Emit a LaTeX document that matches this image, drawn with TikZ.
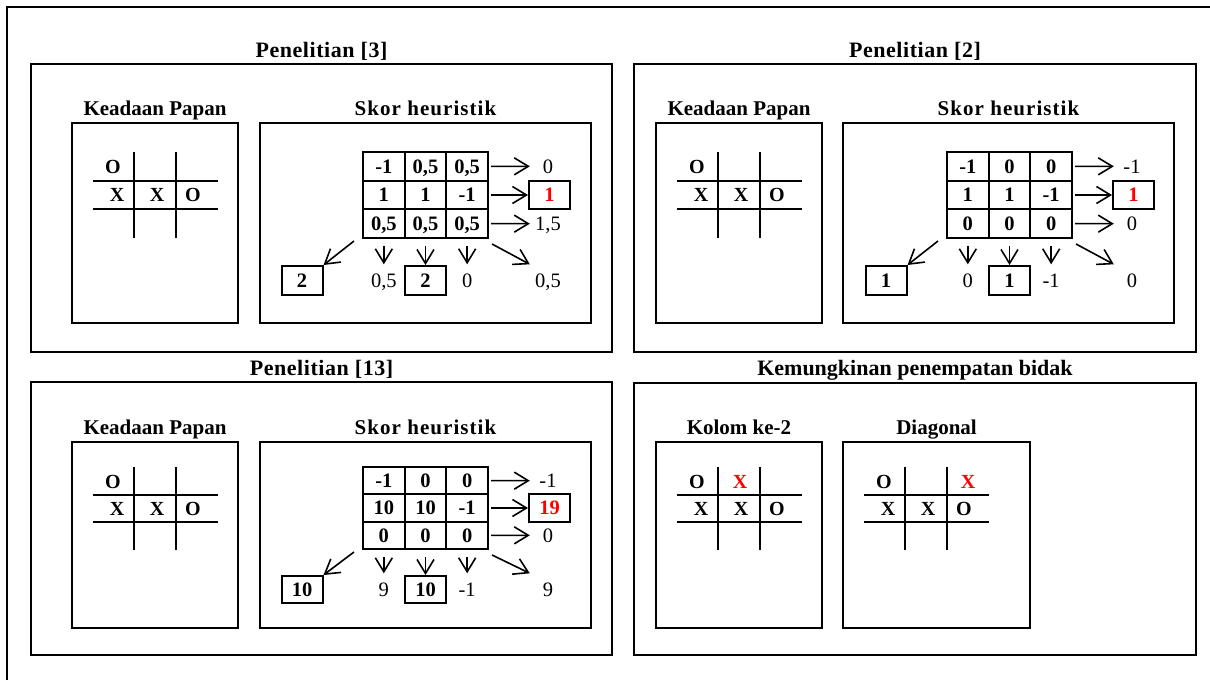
\documentclass[tikz,border=0pt]{standalone}
\usepackage{fontspec}
\setmainfont{Liberation Serif}
\usetikzlibrary{arrows.meta}

\newcommand\cellrow[8]{%
  \node[cell,minimum height=#5] (#1c#21) at (#3+20.83,#4) {#6};
  \node[cell,minimum height=#5] (#1c#22) at (#3+62.5,#4) {#7};
  \node[cell,minimum height=#5] (#1c#23) at (#3+104.17,#4) {#8};
}
\newcommand\rightside[7]{%
  \node[lab] (#1r1) at (#2+185,#3+0.5*#4) {#5};
  \node[vbox,minimum height=#4,text=red] (#1r2) at (#2+186.5,#3+1.5*#4) {#6};
  \node[lab] (#1r3) at (#2+185,#3+2.5*#4) {#7};
  \draw[arr] ([xshift=2pt]#1c13.east) -- (#1r1.west);
  \draw[arr] ([xshift=2pt]#1c23.east) -- (#1r2.west);
  \draw[arr] ([xshift=2pt]#1c33.east) -- (#1r3.west);
}
\newcommand\bottomside[9]{%
  \node[vbox,minimum height=#4] (#1b1) at (#2-61,#3) {#5};
  \node[lab] (#1b2) at (#2+20.83,#3) {#6};
  \node[vbox,minimum height=#4] (#1b3) at (#2+62.5,#3) {#7};
  \node[lab] (#1b4) at (#2+104.17,#3) {#8};
  \node[lab] (#1b5) at (#2+185,#3) {#9};
  \draw[arr] ([xshift=-8pt,yshift=-2pt]#1c31.south west) -- (#1b1.north east);
  \draw[arr] ([yshift=-7pt]#1c31.south) -- (#1b2.north);
  \draw[arr] ([yshift=-7pt]#1c32.south) -- (#1b3.north);
  \draw[arr] ([yshift=-7pt]#1c33.south) -- (#1b4.north);
  \draw[arr] ([xshift=3pt,yshift=-5pt]#1c33.south east) -- (#1b5.north west);
}
\newcommand\boardlines[5]{%
  \draw[bline] (#1,#2) -- (#1+125,#2);
  \draw[bline] (#1,#3) -- (#1+125,#3);
  \draw[bline] (#1+41,#4) -- (#1+41,#5);
  \draw[bline] (#1+83,#4) -- (#1+83,#5);
}
\newcommand\spc[2]{{\addfontfeature{LetterSpace=#1}#2}}

\begin{document}
\begin{tikzpicture}[x=1pt,y=-1pt,
  pbox/.style={draw,line width=2pt,inner sep=0pt,rectangle},
  ttl/.style={font=\bfseries\fontsize{22}{24}\selectfont,anchor=base,inner sep=0pt},
  sub/.style={font=\bfseries\fontsize{21}{24}\selectfont,anchor=base,inner sep=0pt},
  bline/.style={line width=1.8pt},
  piece/.style={font=\bfseries\fontsize{20}{22}\selectfont,inner sep=0pt,text height=13.4pt,text depth=0pt},
  cell/.style={draw,line width=2pt,inner sep=0pt,minimum width=41.67pt,font=\bfseries\fontsize{20.5}{22}\selectfont,text height=13.8pt,text depth=0pt},
  vbox/.style={draw,line width=2pt,inner sep=0pt,minimum width=41pt,font=\bfseries\fontsize{20.5}{22}\selectfont,text height=13.8pt,text depth=0pt},
  lab/.style={inner sep=0pt,minimum width=36pt,minimum height=32pt,font=\fontsize{20.5}{22}\selectfont,text height=13.8pt,text depth=0pt},
  arr/.style={line width=1.6pt,-{Straight Barb[length=14pt,width=17pt]}}
]
\useasboundingbox (0,0) rectangle (1210,680);
\draw[line width=2pt] (7,680) -- (7,7) -- (1210,7);

% panels
\node[pbox,minimum width=581pt,minimum height=288pt] (PA) at (321.5,208) {};
\node[pbox,minimum width=562pt,minimum height=288pt] (PB) at (915,208) {};
\node[pbox,minimum width=581pt,minimum height=273pt] (PC) at (321.5,518.5) {};
\node[pbox,minimum width=562pt,minimum height=272pt] (PD) at (915,519) {};
\node[ttl] (TA) at (321.5,57) {\spc{2.5}{Penelitian [3]}};
\node[ttl] (TB) at (915,57) {\spc{2.5}{Penelitian [2]}};
\node[ttl] (TC) at (321.5,375) {\spc{2.5}{Penelitian [13]}};
\node[ttl] (TD) at (915,375) {Kemungkinan penempatan bidak};

% sub boxes
\node[pbox,minimum width=166pt,minimum height=200pt] (KA) at (155,223) {};
\node[pbox,minimum width=331pt,minimum height=200pt] (SA) at (425.5,223) {};
\node[pbox,minimum width=166pt,minimum height=200pt] (KB) at (739,223) {};
\node[pbox,minimum width=331pt,minimum height=200pt] (SB) at (1008.5,223) {};
\node[pbox,minimum width=166pt,minimum height=186pt] (KC) at (155,535) {};
\node[pbox,minimum width=331pt,minimum height=186pt] (SC) at (425.5,535) {};
\node[pbox,minimum width=166pt,minimum height=186pt] (KD) at (739,535) {};
\node[pbox,minimum width=187pt,minimum height=186pt] (DD) at (936.5,535) {};

\node[sub] (LKA) at (155,115) {Keadaan Papan};
\node[sub] (LSA) at (425.5,115) {\spc{5}{Skor heuristik}};
\node[sub] (LKB) at (739,115) {Keadaan Papan};
\node[sub] (LSB) at (1008.5,115) {\spc{5}{Skor heuristik}};
\node[sub] (LKC) at (155,434) {Keadaan Papan};
\node[sub] (LSC) at (425.5,434) {\spc{5}{Skor heuristik}};
\node[sub] (LKD) at (739,434) {Kolom ke-2};
\node[sub] (LDD) at (936.5,434) {Diagonal};

% boards
\boardlines{93}{181}{209}{152}{238}
\boardlines{677}{181}{209}{152}{238}
\boardlines{93}{495}{522}{467}{550}
\boardlines{677}{495}{522}{467}{550}
\boardlines{864}{495}{522}{467}{550}

\node[piece] (mA1) at (113,167) {O};
\node[piece] (mA2) at (117,195) {X};
\node[piece] (mA3) at (157,195) {X};
\node[piece] (mA4) at (193,195) {O};

\node[piece] (mB1) at (697,167) {O};
\node[piece] (mB2) at (701,195) {X};
\node[piece] (mB3) at (741,195) {X};
\node[piece] (mB4) at (777,195) {O};

\node[piece] (mC1) at (113,482) {O};
\node[piece] (mC2) at (117,509) {X};
\node[piece] (mC3) at (157,509) {X};
\node[piece] (mC4) at (193,509) {O};

\node[piece] (mD1) at (697,482) {O};
\node[piece,text=red] (mD5) at (740,482) {X};
\node[piece] (mD2) at (701,509) {X};
\node[piece] (mD3) at (741,509) {X};
\node[piece] (mD4) at (777,509) {O};

\node[piece] (mE1) at (884,482) {O};
\node[piece,text=red] (mE5) at (968,482) {X};
\node[piece] (mE2) at (888,509) {X};
\node[piece] (mE3) at (928,509) {X};
\node[piece] (mE4) at (964,509) {O};

% score grids
\cellrow{A}{1}{363}{166.33}{28.67}{-1}{0,5}{0,5}
\cellrow{A}{2}{363}{195}{28.67}{1}{1}{-1}
\cellrow{A}{3}{363}{223.67}{28.67}{0,5}{0,5}{0,5}
\rightside{A}{363}{152}{28.67}{0}{1}{1,5}
\bottomside{A}{363}{280.5}{29}{2}{0,5}{2}{0}{0,5}

\cellrow{B}{1}{947}{166.33}{28.67}{-1}{0}{0}
\cellrow{B}{2}{947}{195}{28.67}{1}{1}{-1}
\cellrow{B}{3}{947}{223.67}{28.67}{0}{0}{0}
\rightside{B}{947}{152}{28.67}{-1}{1}{0}
\bottomside{B}{947}{280.5}{29}{1}{0}{1}{-1}{0}

\cellrow{C}{1}{363}{480.67}{27.33}{-1}{0}{0}
\cellrow{C}{2}{363}{508}{27.33}{10}{10}{-1}
\cellrow{C}{3}{363}{535.33}{27.33}{0}{0}{0}
\rightside{C}{363}{467}{27.33}{-1}{19}{0}
\bottomside{C}{363}{589.5}{27}{10}{9}{10}{-1}{9}
\end{tikzpicture}
\end{document}
